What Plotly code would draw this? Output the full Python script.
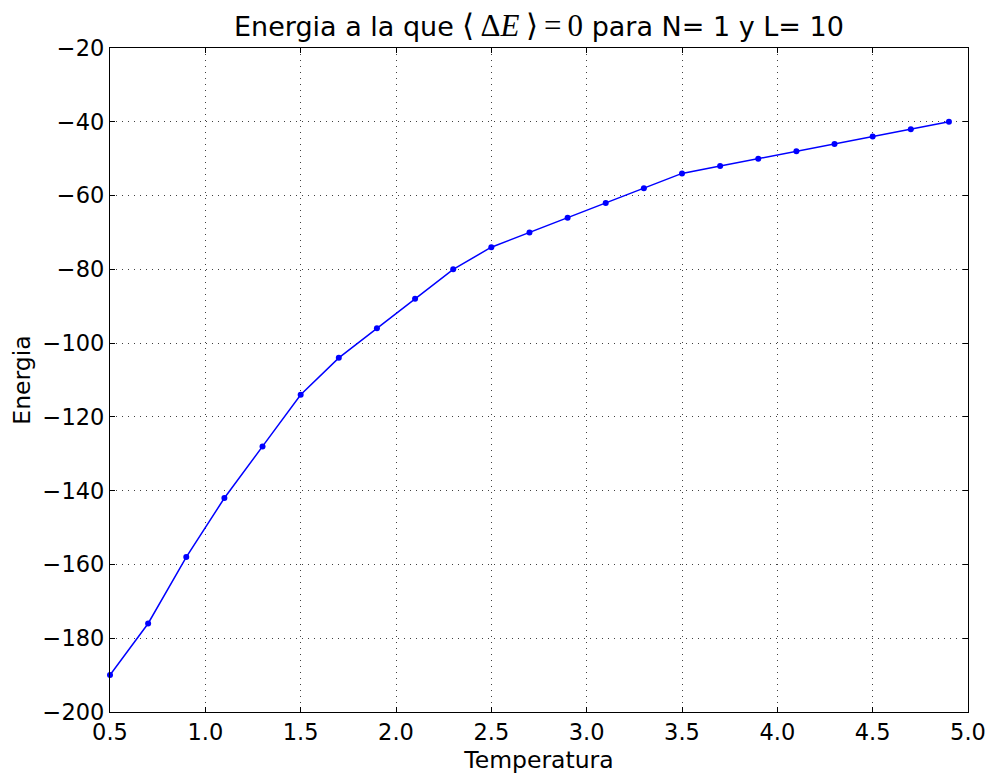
import plotly.graph_objects as go

# Temperatura y energia a la que <ΔE> = 0 (N = 1, L = 10)
temperatura = [0.5, 0.7, 0.9, 1.1, 1.3, 1.5, 1.7, 1.9, 2.1, 2.3, 2.5, 2.7,
               2.9, 3.1, 3.3, 3.5, 3.7, 3.9, 4.1, 4.3, 4.5, 4.7, 4.9]
energia = [-190, -176, -158, -142, -128, -114, -104, -96, -88, -80, -74, -70,
           -66, -62, -58, -54, -52, -50, -48, -46, -44, -42, -40]

x_ticks = [0.5, 1.0, 1.5, 2.0, 2.5, 3.0, 3.5, 4.0, 4.5, 5.0]
y_ticks = [-200, -180, -160, -140, -120, -100, -80, -60, -40, -20]

FONT = "DejaVu Sans"
MATH_FONT = "Liberation Serif"

fig = go.Figure()
fig.add_trace(go.Scatter(
    x=temperatura, y=energia, mode="lines+markers",
    line=dict(color="#0000ff", width=1.5),
    marker=dict(color="#0000ff", size=6),
    cliponaxis=False,
))

axis_common = dict(
    showline=True, linecolor="black", linewidth=1.3, mirror="ticks",
    ticks="inside", ticklen=5, tickwidth=1, tickcolor="black",
    showgrid=True, gridcolor="rgba(0,0,0,0.75)", gridwidth=1, griddash="1px,5px",
    zeroline=False, automargin=False,
    tickfont=dict(family=FONT, size=22.5, color="black"),
)

fig.update_xaxes(
    range=[0.5, 5.0], tickvals=x_ticks,
    ticktext=[f"{v:.1f}" for v in x_ticks],
    title=dict(text="Temperatura", font=dict(family=FONT, size=23.5, color="black"), standoff=7),
    **axis_common,
)
fig.update_yaxes(
    range=[-200, -20], tickvals=y_ticks,
    title=dict(text="Energia", font=dict(family=FONT, size=23.5, color="black"), standoff=5),
    **axis_common,
)

# Math part of the title set in a serif face, like a TeX expression
math_part = (f'<span style="font-family:{MATH_FONT};font-size:31px">'
             f'⟨\u2009Δ<i>E</i>\u2009⟩\u2009=\u20090</span>')
fig.add_annotation(
    text=f"Energia a la que {math_part} para N= 1 y L= 10",
    xref="paper", yref="paper", x=0.5, y=1, xanchor="center", yanchor="bottom",
    yshift=3, showarrow=False, font=dict(family=FONT, size=27, color="black"),
)

fig.update_layout(
    width=991, height=776,
    margin=dict(l=110, r=23, t=48, b=64),
    paper_bgcolor="white", plot_bgcolor="white",
    showlegend=False,
)

fig.write_html("out.html")
